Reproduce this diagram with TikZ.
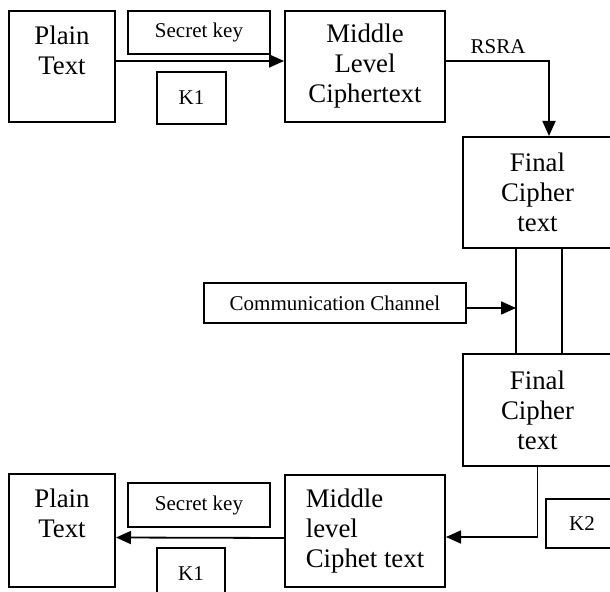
\documentclass[tikz,border=0pt]{standalone}
\usepackage{fontspec}
\setmainfont{Liberation Serif}
\usetikzlibrary{arrows.meta,positioning}

\begin{document}
\begin{tikzpicture}[x=0.5pt,y=-0.5pt,
  >={Triangle[length=7.5pt,width=6.5pt]},
  box/.style={draw,line width=1pt,inner sep=0pt,align=center,
    font=\fontsize{13.4}{15}\selectfont},
  boxtext/.style={inner sep=0pt,align=center,
    font=\fontsize{13.4}{15}\selectfont},
  keybox/.style={draw,line width=1pt,inner sep=0pt,align=center,
    font=\fontsize{10.5}{12}\selectfont},
  keytext/.style={inner sep=0pt,font=\fontsize{10.5}{12}\selectfont},
  conn/.style={line width=0.9pt}]

  \clip (0,0) rectangle (610,592);

  %-------------------- szyfrowanie --------------------
  \node[box,minimum width=53pt,minimum height=55.5pt] (plain1) at (62,66.5) {};
  \node[boxtext,below=8pt of plain1.north] (plain1txt) {Plain\\Text};

  \node[keybox,minimum width=71pt,minimum height=21.5pt] (key1) at (199,32.5) {Secret key};
  \node[keybox,minimum width=34.5pt,minimum height=26pt] (k1top) at (191.5,98) {K1};

  \node[box,minimum width=80pt,minimum height=55.5pt] (mid1) at (365,66.5)
    {Middle\\Level\\Ciphertext};

  \node[box,minimum width=74.5pt,minimum height=55.5pt] (fin1) at (537.5,192.5)
    {Final\\Cipher\\text};

  % Strzałki
  \draw[conn,->] ([yshift=2.75pt]plain1.east) -- ([yshift=2.75pt]mid1.west);
  \draw[conn,->] ([yshift=2.75pt]mid1.east) -| ([xshift=5.75pt]fin1.north);
  \node[keytext] (rsra) at (498,47) {RSRA};

  %-------------------- kanał --------------------
  \node[box,minimum width=74.5pt,minimum height=56pt] (fin2) at (537.5,410)
    {Final\\Cipher\\text};

  \coordinate (chanL) at ([xshift=-10.75pt]fin1.south);
  \coordinate (chanR) at ([xshift=12.25pt]fin1.south);
  \draw[conn] (chanL) -- (chanL |- fin2.north);
  \draw[conn] (chanR) -- (chanR |- fin2.north);

  \node[keybox,minimum width=131pt,minimum height=20pt] (comm) at (335,303)
    {Communication Channel};
  \coordinate (commout) at ([yshift=-2.5pt]comm.east);
  \draw[conn,->] (commout) -- (commout -| chanL);

  %-------------------- deszyfrowanie --------------------
  \node[keybox,minimum width=36pt,minimum height=24.5pt] (k2) at (582,523.5) {K2};

  \node[box,minimum width=80pt,minimum height=56pt,align=left] (mid2) at (365,531)
    {Middle\\level\\Ciphet text};

  \node[box,minimum width=53pt,minimum height=56.5pt] (plain2) at (62,530.5) {};
  \node[boxtext,below=8pt of plain2.north] (plain2txt) {Plain\\Text};

  \node[keybox,minimum width=71pt,minimum height=22pt] (key2) at (199,505) {Secret key};
  \node[keybox,minimum width=34pt,minimum height=26pt] (k1bot) at (191,574) {K1};

  % Strzałki
  \draw[conn,->] (fin2.south) |- ([yshift=-3pt]mid2.east);
  \draw[conn,->] ([yshift=-3.5pt]mid2.west) -- ([yshift=-3.5pt]plain2.east);

\end{tikzpicture}
\end{document}
